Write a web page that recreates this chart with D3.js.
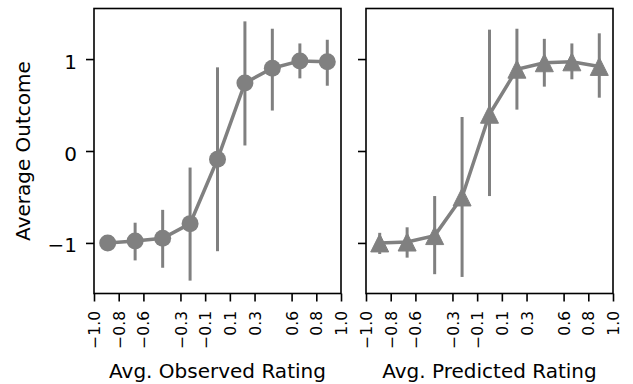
<!DOCTYPE html>
<html>
<head>
<meta charset="utf-8">
<script src="https://cdn.jsdelivr.net/npm/d3@7"></script>
<style>
  body { margin: 0; background: #fff; }
  svg { display: block; }
  text { font-family: "DejaVu Sans", sans-serif; fill: #000; }
</style>
</head>
<body>
<div id="chart-container"></div>
<script>
// Bin centers on the rating axis (9 equal bins from -1 to 1)
const binCenters = [-0.889, -0.667, -0.444, -0.222, 0, 0.222, 0.444, 0.667, 0.889];

// Observed rating: mean outcome and error bar ends per bin
const observedMean = [-1.0, -0.98, -0.95, -0.79, -0.09, 0.74, 0.90, 0.98, 0.97];
const observedLow  = [-1.0, -1.19, -1.27, -1.41, -1.09, 0.06, 0.44, 0.79, 0.71];
const observedHigh = [-1.0, -0.78, -0.64, -0.18, 0.91, 1.41, 1.33, 1.17, 1.21];

// Predicted rating: mean outcome and error bar ends per bin
const predictedMean = [-1.0, -0.99, -0.92, -0.50, 0.40, 0.89, 0.96, 0.97, 0.92];
const predictedLow  = [-1.12, -1.16, -1.34, -1.37, -0.49, 0.45, 0.70, 0.78, 0.58];
const predictedHigh = [-0.89, -0.83, -0.49, 0.37, 1.32, 1.33, 1.22, 1.17, 1.28];

const xTicks = [-1, -0.8, -0.6, -0.3, -0.1, 0.1, 0.3, 0.6, 0.8, 1];
const xTickLabels = ["\u22121.0", "\u22120.8", "\u22120.6", "\u22120.3", "\u22120.1", "0.1", "0.3", "0.6", "0.8", "1.0"];
const yTicks = [-1, 0, 1];
const yTickLabels = ["\u22121", "0", "1"];

const width = 633, height = 384;
const plotTop = 8.5, plotBottom = 293.5;
const color = "#808080";

const panels = [
  { left: 94, right: 341, label: "Avg. Observed Rating", marker: "circle",
    mean: observedMean, low: observedLow, high: observedHigh, yLabels: true },
  { left: 366, right: 613, label: "Avg. Predicted Rating", marker: "triangle",
    mean: predictedMean, low: predictedLow, high: predictedHigh, yLabels: false }
];

const svg = d3.select("#chart-container").append("svg")
    .attr("width", width)
    .attr("height", height);

const y = d3.scaleLinear().domain([-1.55, 1.55]).range([plotBottom, plotTop]);

panels.forEach(p => {
  const x = d3.scaleLinear().domain([-1, 1]).range([p.left, p.right]);
  const rows = binCenters.map((c, i) => ({ x: c, mean: p.mean[i], low: p.low[i], high: p.high[i] }));

  // x axis with rotated tick labels
  const xAxis = svg.append("g")
      .attr("transform", "translate(0," + plotBottom + ")")
      .call(d3.axisBottom(x).tickValues(xTicks).tickSizeOuter(0).tickSize(8)
        .tickFormat((d, i) => xTickLabels[i]));
  xAxis.select(".domain").remove();
  xAxis.selectAll("line").attr("stroke", "#000").attr("stroke-width", 1.6);
  xAxis.selectAll("text")
      .attr("x", 0).attr("y", 0).attr("dy", "0.36em")
      .attr("transform", "translate(0,17.5) rotate(-90)")
      .style("text-anchor", "end")
      .style("font-size", "15.5px");

  // y axis
  const yAxis = svg.append("g")
      .attr("transform", "translate(" + p.left + ",0)")
      .call(d3.axisLeft(y).tickValues(yTicks).tickSize(8).tickPadding(9)
        .tickFormat((d, i) => p.yLabels ? yTickLabels[i] : ""));
  yAxis.select(".domain").remove();
  yAxis.selectAll("line").attr("stroke", "#000").attr("stroke-width", 1.6);
  yAxis.selectAll("text").attr("dy", "0.45em").style("font-size", "20px");

  // error bars
  svg.append("g").selectAll("line")
      .data(rows)
      .enter().append("line")
      .attr("x1", d => x(d.x)).attr("x2", d => x(d.x))
      .attr("y1", d => y(d.low)).attr("y2", d => y(d.high))
      .attr("stroke", color)
      .attr("stroke-width", 3);

  // connecting line
  svg.append("path")
      .datum(rows)
      .attr("fill", "none")
      .attr("stroke", color)
      .attr("stroke-width", 3.5)
      .attr("d", d3.line().x(d => x(d.x)).y(d => y(d.mean)));

  // markers
  const marks = svg.append("g").selectAll("path")
      .data(rows)
      .enter();
  if (p.marker === "circle") {
    marks.append("circle")
        .attr("cx", d => x(d.x)).attr("cy", d => y(d.mean))
        .attr("r", 8.5)
        .attr("fill", color);
  } else {
    const s = 9;
    marks.append("path")
        .attr("transform", d => "translate(" + x(d.x) + "," + y(d.mean) + ")")
        .attr("d", "M0," + (-s) + "L" + s + "," + s + "L" + (-s) + "," + s + "Z")
        .attr("fill", color)
        .attr("stroke", color)
        .attr("stroke-width", 1)
        .attr("stroke-linejoin", "miter");
  }

  // frame
  svg.append("rect")
      .attr("x", p.left).attr("y", plotTop)
      .attr("width", p.right - p.left).attr("height", plotBottom - plotTop)
      .attr("fill", "none")
      .attr("stroke", "#000")
      .attr("stroke-width", 1.6);

  // x label
  svg.append("text")
      .attr("x", (p.left + p.right) / 2)
      .attr("y", 378.3)
      .attr("text-anchor", "middle")
      .style("font-size", "20px")
      .text(p.label);
});

// y label
svg.append("text")
    .attr("transform", "translate(30," + (plotTop + plotBottom) / 2 + ") rotate(-90)")
    .attr("text-anchor", "middle")
    .style("font-size", "20px")
    .text("Average Outcome");
</script>
</body>
</html>
